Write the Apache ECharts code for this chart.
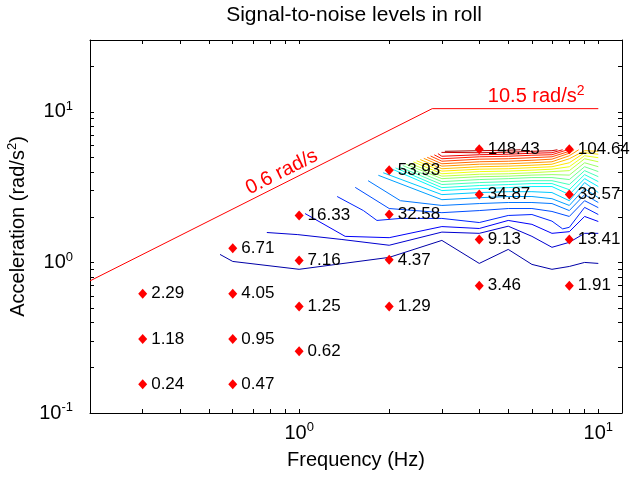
<!DOCTYPE html>
<html>
<head>
<meta charset="utf-8">
<script src="https://cdn.jsdelivr.net/npm/echarts@6/dist/echarts.min.js"></script>
<style>
  html, body { margin: 0; padding: 0; background: #fff; }
  #box { width: 641px; height: 477px; }
</style>
</head>
<body>
<div id="box"></div>
<script>
// measured points: frequency (Hz), acceleration (rad/s^2), signal-to-noise ratio
const pointFreq = [0.3, 0.3, 0.3, 0.6, 0.6, 0.6, 0.6, 1, 1, 1, 1, 2, 2, 2, 2, 4, 4, 4, 4, 8, 8, 8, 8];
const pointAcc = [0.155, 0.31, 0.62, 0.155, 0.31, 0.62, 1.24, 0.257, 0.51, 1.03, 2.05, 0.51, 1.04, 2.08, 4.1, 0.70, 1.42, 2.82, 5.65, 0.70, 1.42, 2.82, 5.65];
const pointSnr = ['0.24', '1.18', '2.29', '0.47', '0.95', '4.05', '6.71', '0.62', '1.25', '7.16', '16.33', '1.29', '4.37', '32.58', '53.93', '3.46', '9.13', '34.87', '148.43', '1.91', '13.41', '39.57', '104.64'];

// limit line: 0.6 rad/s velocity then 10.5 rad/s^2
const limitFreq = [0.2, 2.785, 10];
const limitAcc = [0.754, 10.5, 10.5];

// contour levels and their traced lines [freq, acc]
const contourLevels = [6, 12, 18, 24, 30, 36, 42, 48, 54, 60, 66, 72, 78, 84, 90, 96, 102, 108, 114, 120, 126, 132, 138, 144];
const contourLines = [
    [[0.544, 1.13], [0.6, 1.015], [1, 0.90], [2, 1.08], [3, 1.40], [4, 0.985], [5, 1.22], [6, 0.97], [7, 0.90], [8, 0.94], [9, 1.0], [10, 0.985]],
    [[0.78, 1.58], [0.99, 1.53], [1.39, 1.42], [2, 1.30], [3, 1.59], [4, 1.56], [5, 1.74], [6, 1.49], [7, 1.26], [8, 1.36], [9, 1.56], [10, 1.56]],
    [[1.047, 2.11], [1.425, 1.49], [2, 1.46], [3, 1.73], [4, 1.68], [5, 1.90], [6, 1.79], [7, 1.56], [8, 1.60], [9, 2.02], [10, 1.87]],
    [[1.34, 2.74], [1.64, 2.21], [1.82, 1.90], [2.18, 1.96], [3, 1.96], [4, 1.84], [5, 2.05], [6, 2.08], [7, 1.88], [7.6, 1.67], [8, 1.71], [9, 2.32], [10, 2.08]],
    [[1.54, 3.15], [2, 2.28], [3, 2.14], [4, 2.21], [5, 2.28], [6, 2.28], [7, 2.18], [8, 2.02], [9, 2.57], [10, 2.31]],
    [[1.70, 3.49], [2.18, 2.57], [3, 2.39], [4, 2.46], [5, 2.50], [6, 2.50], [7, 2.46], [8, 2.21], [9, 2.82], [10, 2.50]],
    [[1.84, 3.79], [3, 2.61], [4, 2.69], [5, 2.74], [6, 2.74], [7, 2.65], [8, 2.39], [9, 3.09], [10, 2.69]],
    [[1.91, 3.94], [3, 2.82], [4, 2.91], [5, 2.95], [6, 2.95], [7, 2.91], [8, 2.57], [9, 3.39], [10, 2.91]],
    [[2.05, 4.16], [3, 3.00], [4, 3.09], [5, 3.14], [6, 3.19], [7, 3.19], [8, 2.82], [9, 3.60], [10, 3.19]],
    [[2.10, 4.24], [3, 3.14], [4, 3.24], [5, 3.29], [6, 3.34], [7, 3.34], [8, 3.04], [9, 3.83], [10, 3.44]],
    [[2.16, 4.32], [3, 3.29], [4, 3.39], [5, 3.44], [6, 3.49], [7, 3.49], [8, 3.29], [9, 4.07], [10, 3.71]],
    [[2.22, 4.40], [3, 3.44], [4, 3.55], [5, 3.60], [6, 3.66], [7, 3.66], [8, 3.55], [9, 4.32], [10, 4.01]],
    [[2.28, 4.48], [3, 3.60], [4, 3.71], [5, 3.74], [6, 3.80], [7, 3.83], [8, 3.80], [9, 4.59], [10, 4.32]],
    [[2.34, 4.56], [3, 3.74], [4, 3.85], [5, 3.88], [6, 3.94], [7, 4.01], [8, 4.07], [9, 4.88], [10, 4.66]],
    [[2.41, 4.65], [3, 3.88], [4, 4.01], [5, 4.04], [6, 4.10], [7, 4.16], [8, 4.32], [9, 5.11], [10, 4.96]],
    [[2.47, 4.73], [3, 4.04], [4, 4.16], [5, 4.19], [6, 4.26], [7, 4.32], [8, 4.59], [9, 5.35], [10, 5.23]],
    [[2.54, 4.82], [3, 4.19], [4, 4.32], [5, 4.36], [6, 4.42], [7, 4.49], [8, 4.88], [9, 5.52], [10, 5.47]],
    [[2.61, 4.91], [3, 4.36], [4, 4.49], [5, 4.52], [6, 4.59], [7, 4.66], [8, 5.11], [8.6, 5.6]],
    [[2.68, 4.99], [3, 4.52], [4, 4.66], [5, 4.70], [6, 4.77], [7, 4.85], [8, 5.31], [8.3, 5.6]],
    [[2.75, 5.09], [3, 4.70], [4, 4.85], [5, 4.88], [6, 4.96], [7, 5.03], [8, 5.47], [8.1, 5.6]],
    [[2.83, 5.18], [3, 4.88], [4, 5.03], [5, 5.07], [6, 5.15], [7, 5.19], [7.9, 5.6]],
    [[2.91, 5.28], [3, 5.07], [4, 5.19], [5, 5.23], [6, 5.31], [7, 5.35], [7.6, 5.6]],
    [[2.99, 5.38], [4, 5.35], [5, 5.39], [6, 5.47], [7, 5.52], [7.3, 5.6]],
    [[3.07, 5.47], [4, 5.52], [5, 5.56], [5.5, 5.6]]
];

const xTicks = [0.2, 0.3, 0.4, 0.5, 0.6, 0.7, 0.8, 0.9, 1, 2, 3, 4, 5, 6, 7, 8, 9, 10];
const xLabels = [1, 10];
const yTicks = [0.1, 0.2, 0.3, 0.4, 0.5, 0.6, 0.7, 0.8, 0.9, 1, 2, 3, 4, 5, 6, 7, 8, 9, 10, 20];
const yLabels = [0.1, 1, 10];

const FONT = '"Liberation Sans", Arial, sans-serif';
const snrMin = 0.24, snrMax = 148.43;

// matlab jet colormap
function jet(v) {
    const t = (v - snrMin) / (snrMax - snrMin);
    const f = x => Math.max(0, Math.min(1, x));
    const r = f(Math.min(4 * t - 1.5, -4 * t + 4.5));
    const g = f(Math.min(4 * t - 0.5, -4 * t + 3.5));
    const b = f(Math.min(4 * t + 0.5, -4 * t + 2.5));
    return 'rgb(' + Math.round(r * 255) + ',' + Math.round(g * 255) + ',' + Math.round(b * 255) + ')';
}

function powLabel(v) {
    return '10{s|' + Math.round(Math.log10(v)) + '}';
}

const labelRich = {
    s: { fontSize: 13, fontFamily: FONT, color: '#000', padding: [0, 0, 11, 0] }
};

const chart = echarts.init(document.getElementById('box'));

const series = [];
contourLines.forEach((line, i) => {
    series.push({
        type: 'line',
        data: line,
        showSymbol: false,
        symbol: 'none',
        silent: true,
        lineStyle: { width: 1, color: jet(contourLevels[i]) },
        z: 2
    });
});
series.push({
    type: 'line',
    data: limitFreq.map((f, i) => [f, limitAcc[i]]),
    symbol: 'none',
    silent: true,
    lineStyle: { width: 1, color: '#ff0000' },
    z: 3
});
series.push({
    type: 'scatter',
    data: pointFreq.map((f, i) => [f, pointAcc[i]]),
    symbol: 'diamond',
    symbolSize: [9, 10],
    itemStyle: { color: '#ff0000', opacity: 1 },
    label: {
        show: true,
        position: 'right',
        distance: 4,
        color: '#000',
        fontSize: 17,
        fontFamily: FONT,
        formatter: p => pointSnr[p.dataIndex]
    },
    z: 4
});

function makeX(pos, showLabel) {
    return {
        type: 'log', logBase: 10, min: 0.2, max: 12, position: pos,
        axisLine: { show: true, onZero: false, lineStyle: { color: '#000', width: 1 } },
        axisTick: { show: true, inside: true, length: 4, customValues: xTicks, lineStyle: { color: '#000' } },
        splitLine: { show: false },
        axisLabel: {
            show: showLabel, customValues: xLabels, formatter: powLabel, margin: 8,
            color: '#000', fontSize: 20, fontFamily: FONT, rich: labelRich
        },
        name: showLabel ? 'Frequency (Hz)' : '',
        nameLocation: 'middle',
        nameGap: 37,
        nameTextStyle: { color: '#000', fontSize: 20, fontFamily: FONT }
    };
}
function makeY(pos, showLabel) {
    return {
        type: 'log', logBase: 10, min: 0.1, max: 30, position: pos,
        axisLine: { show: true, onZero: false, lineStyle: { color: '#000', width: 1 } },
        axisTick: { show: true, inside: true, length: 4, customValues: yTicks, lineStyle: { color: '#000' } },
        splitLine: { show: false },
        axisLabel: {
            show: showLabel, customValues: yLabels, formatter: powLabel, margin: 17,
            color: '#000', fontSize: 20, fontFamily: FONT, rich: labelRich
        },
        name: showLabel ? 'Acceleration (rad/s{s|2})' : '',
        nameLocation: 'middle',
        nameGap: 43,
        nameTextStyle: { color: '#000', fontSize: 20, fontFamily: FONT, rich: labelRich }
    };
}

chart.setOption({
    animation: false,
    backgroundColor: '#fff',
    grid: { left: 90, right: 19, top: 40, bottom: 64, containLabel: false, outerBoundsMode: 'none' },
    xAxis: [makeX('bottom', true), makeX('top', false)],
    yAxis: [makeY('left', true), makeY('right', false)],
    series: series
});

// annotations placed at data coordinates
const velPos = chart.convertToPixel({ gridIndex: 0 }, [0.875, 3.98]);
const accPos = chart.convertToPixel({ gridIndex: 0 }, [6.2, 12.6]);
chart.setOption({
    graphic: [
        {
            type: 'text', x: 354, y: 5,
            style: { text: 'Signal-to-noise levels in roll', fill: '#000', fontSize: 21, fontFamily: FONT, textAlign: 'center' }
        },
        {
            type: 'text', x: velPos[0], y: velPos[1], rotation: 0.464,
            style: { text: '0.6 rad/s', fill: '#ff0000', fontSize: 20, fontFamily: FONT, textAlign: 'center', textVerticalAlign: 'middle' }
        },
        {
            type: 'text', x: accPos[0], y: accPos[1],
            style: {
                text: '10.5 rad/s{s|2}', fill: '#ff0000', fontSize: 20, fontFamily: FONT,
                textAlign: 'center', textVerticalAlign: 'middle',
                rich: { s: { fontSize: 14, fill: '#ff0000', fontFamily: FONT, padding: [0, 0, 11, 0] } }
            }
        }
    ]
});
</script>
</body>
</html>
